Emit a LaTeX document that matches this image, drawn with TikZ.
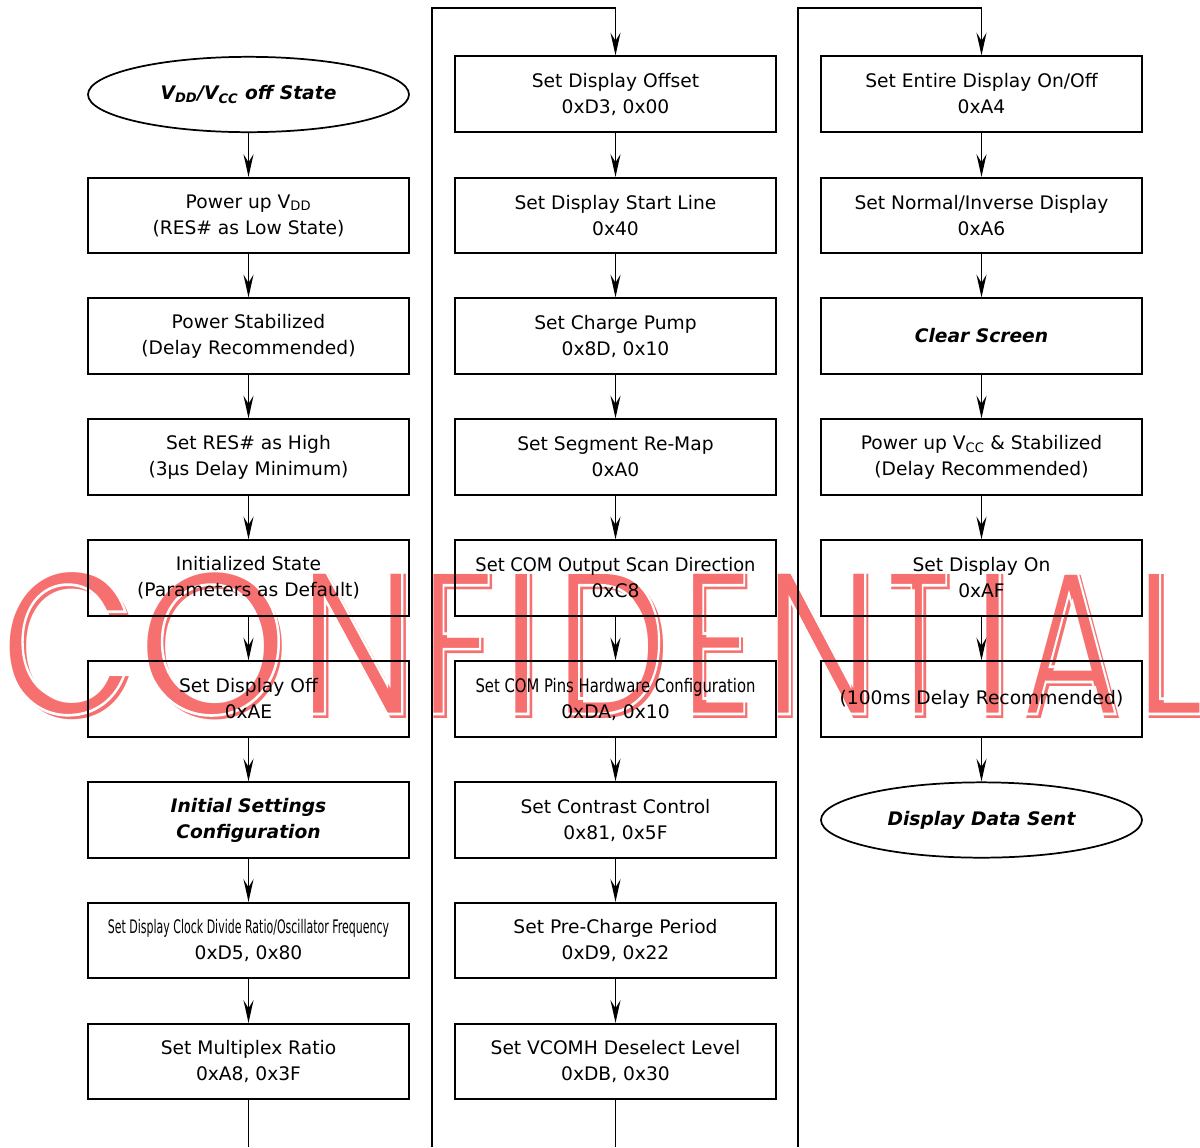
\documentclass[tikz,border=0pt]{standalone}
\usepackage{fontspec}
\usepackage{graphicx}
\setmainfont{DejaVu Sans}
\newfontfamily\wmfont{Poppins}
\newfontfamily\wmline{Poppins}[FakeBold=1.3]
\usetikzlibrary{arrows.meta,shapes.geometric}

\definecolor{wmred}{RGB}{246,112,112}
\newcommand\narrowline[2]{\resizebox{#1}{\height}{#2}}
\newcommand\inline[1]{{\pgfsetfillopacity{0}#1}}

\begin{document}
\begin{tikzpicture}[x=0.75pt,y=-0.75pt,
                    stepbox/.style={draw,line width=1.4pt,minimum width=240.75pt,minimum height=56.5pt,
                                    inner sep=0pt,align=center,font=\fontsize{14}{19.5}\selectfont},
                    terminal/.style={stepbox,ellipse,line width=1.3pt,font=\fontsize{14}{19.5}\selectfont\bfseries\itshape},
                    emph box/.style={stepbox,font=\fontsize{14}{19.5}\selectfont\bfseries\itshape},
                    flow/.style={line width=1.3pt,-{Stealth[length=17pt,width=7.5pt,inset=6pt]}},
                    link/.style={line width=1.3pt},
                    wmletter/.style={anchor=base,inner sep=0pt,text=wmred,font=\wmfont\fontsize{155}{155}\selectfont},
                    wminline/.style={anchor=base,inner sep=0pt,text=white,font=\wmline\fontsize{155}{155}\selectfont}]
    \useasboundingbox (0,0) rectangle (1200,1147);

    % watermark, under everything else
    \foreach \ch/\cx/\xs in {C/71/0.86,O/215.5/0.93,N/360/0.82,F/460/0.72,I/524/0.9,D/613/0.78,
                             E/720/0.7,N/824/0.8,T/921/0.6,I/995.5/0.9,A/1073/0.74,L/1172/0.8}{
        \node[wmletter] at (\cx,718) {\scalebox{\xs}[1]{\ch}};
        \node[wminline] at (\cx-4,714) {\scalebox{\xs}[1]{\inline{\ch}}};
    }

    % first column
    \node[terminal] (off) at (248.5,94.5) {V\textsubscript{DD}/V\textsubscript{CC} off State};
    \node[stepbox] (vdd) at (248.5,215.5) {Power up V\textsubscript{DD}\\(RES\# as Low State)};
    \node[stepbox] (stable) at (248.5,336) {Power Stabilized\\(Delay Recommended)};
    \node[stepbox] (reshigh) at (248.5,457) {Set RES\# as High\\(3µs Delay Minimum)};
    \node[stepbox] (init) at (248.5,578) {Initialized State\\(Parameters as Default)};
    \node[stepbox] (dispoff) at (248.5,699) {Set Display Off\\0xAE};
    \node[emph box] (settings) at (248.5,820) {Initial Settings\\Configuration};
    \node[stepbox] (clkdiv) at (248.5,940.5) {\narrowline{211pt}{Set Display Clock Divide Ratio/Oscillator Frequency}\\0xD5, 0x80};
    \node[stepbox] (mux) at (248.5,1061.5) {Set Multiplex Ratio\\0xA8, 0x3F};

    % second column
    \node[stepbox] (offset) at (615.5,94) {Set Display Offset\\0xD3, 0x00};
    \node[stepbox] (startline) at (615.5,215.5) {Set Display Start Line\\0x40};
    \node[stepbox] (pump) at (615.5,336) {Set Charge Pump\\0x8D, 0x10};
    \node[stepbox] (remap) at (615.5,457) {Set Segment Re-Map\\0xA0};
    \node[stepbox] (comscan) at (615.5,578) {\narrowline{210pt}{Set COM Output Scan Direction}\\0xC8};
    \node[stepbox] (compins) at (615.5,699) {\narrowline{210pt}{Set COM Pins Hardware Configuration}\\0xDA, 0x10};
    \node[stepbox] (contrast) at (615.5,820) {Set Contrast Control\\0x81, 0x5F};
    \node[stepbox] (precharge) at (615.5,940.5) {Set Pre-Charge Period\\0xD9, 0x22};
    \node[stepbox] (vcomh) at (615.5,1061.5) {Set VCOMH Deselect Level\\0xDB, 0x30};

    % third column
    \node[stepbox] (entire) at (981.5,94) {Set Entire Display On/Off\\0xA4};
    \node[stepbox] (normal) at (981.5,215.5) {Set Normal/Inverse Display\\0xA6};
    \node[emph box] (clear) at (981.5,336) {Clear Screen};
    \node[stepbox] (vcc) at (981.5,457) {Power up V\textsubscript{CC} \& Stabilized\\(Delay Recommended)};
    \node[stepbox] (dispon) at (981.5,578) {Set Display On\\0xAF};
    \node[stepbox] (delay) at (981.5,699) {(100ms Delay Recommended)};
    \node[terminal] (sent) at (981.5,820) {Display Data Sent};

    \foreach \a/\b in {off/vdd,vdd/stable,stable/reshigh,reshigh/init,init/dispoff,dispoff/settings,
                       settings/clkdiv,clkdiv/mux,offset/startline,startline/pump,pump/remap,remap/comscan,
                       comscan/compins,compins/contrast,contrast/precharge,precharge/vcomh,
                       entire/normal,normal/clear,clear/vcc,vcc/dispon,dispon/delay,delay/sent}
        \draw[flow] (\a) -- (\b);

    % column links, running off the bottom edge
    \coordinate (mux end) at (248.5,1147);
    \coordinate (vcomh end) at (615.5,1147);
    \coordinate (loop1 bottom) at (432,1147);
    \coordinate (loop1 top) at (432,8);
    \coordinate (loop2 bottom) at (798,1147);
    \coordinate (loop2 top) at (798,8);
    \draw[link] (mux) -- (mux end);
    \draw[link] (vcomh) -- (vcomh end);
    \draw[flow] (loop1 bottom) -- (loop1 top) -| (offset);
    \draw[flow] (loop2 bottom) -- (loop2 top) -| (entire);
\end{tikzpicture}
\end{document}
